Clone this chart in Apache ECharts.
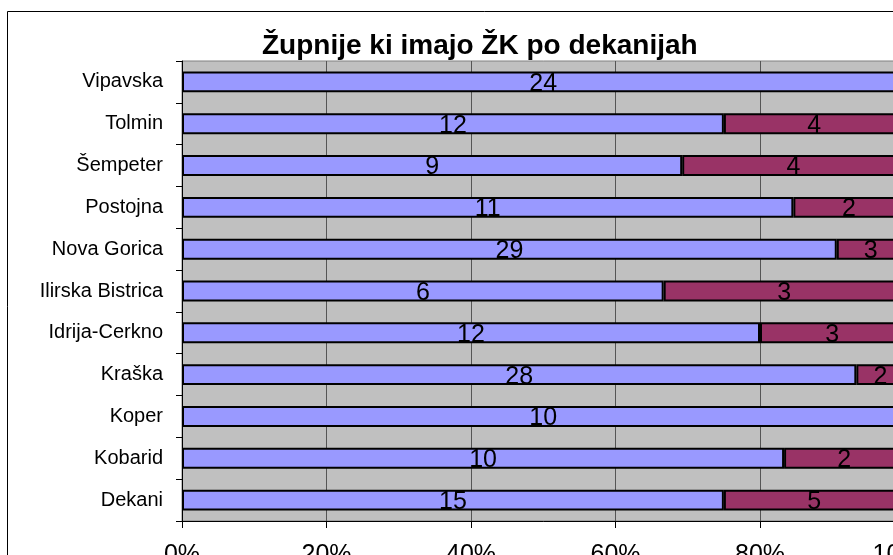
<!DOCTYPE html>
<html><head><meta charset="utf-8">
<script src="https://cdn.jsdelivr.net/npm/echarts@6/dist/echarts.min.js"></script>
<style>html,body{margin:0;padding:0;overflow:hidden;background:#fff;width:893px;height:555px}#c{width:960px;height:600px}</style>
</head><body><div id="c"></div>
<script>
const categories = ['Vipavska','Tolmin','Šempeter','Postojna','Nova Gorica','Ilirska Bistrica','Idrija-Cerkno','Kraška','Koper','Kobarid','Dekani'];
const seriesA = [24,12,9,11,29,6,12,28,10,10,15];
const seriesB = [0,4,4,2,3,3,3,2,0,2,5];
const xTicks = ['0%','20%','40%','60%','80%','100%'];
const titleText = 'Župnije ki imajo ŽK po dekanijah';

const totals = categories.map((c,i)=>seriesA[i]+seriesB[i]);
const pctA = seriesA.map((v,i)=>v/totals[i]*100);
const pctB = seriesB.map((v,i)=>v/totals[i]*100);
const chart = echarts.init(document.getElementById('c'), null, {renderer:'canvas'});
const FONT = 'Liberation Sans, Arial, sans-serif';
const labelStyle = (raw)=>({show:true,position:'inside',color:'#000',fontFamily:FONT,fontSize:25,offset:[0,2],
  formatter:(p)=> raw[p.dataIndex] ? String(raw[p.dataIndex]) : ''});
chart.setOption({
  animation:false,
  title:{text:titleText,left:257,top:27,textStyle:{fontFamily:FONT,fontSize:28,fontWeight:'bold',color:'#000'}},
  graphic:[{type:'rect',shape:{x:7.5,y:11.5,width:1200,height:1000},style:{fill:'none',stroke:'#000',lineWidth:1},z:-1}],
  grid:{left:182,top:61,width:722.5,height:460,show:true,backgroundColor:'#C0C0C0',borderColor:'#808080',borderWidth:1},
  xAxis:{type:'value',min:0,max:100,interval:20,
    axisLine:{show:true,lineStyle:{color:'#000',width:1}},
    axisTick:{show:true,length:7,lineStyle:{color:'#000'}},
    splitLine:{show:true,lineStyle:{color:'#555',width:1}},
    axisLabel:{formatter:(v)=>xTicks[Math.round(v/20)],margin:22,color:'#000',fontFamily:FONT,fontSize:25}},
  yAxis:{type:'category',data:categories,inverse:true,
    axisLine:{show:true,lineStyle:{color:'#000',width:1}},
    axisTick:{show:true,length:6,inside:false,lineStyle:{color:'#000'}},
    axisLabel:{margin:19,color:'#000',fontFamily:FONT,fontSize:20}},
  series:[
    {type:'bar',stack:'s',data:pctA,barCategoryGap:'50%',itemStyle:{color:'#9999FF',borderColor:'#000',borderWidth:2},label:labelStyle(seriesA)},
    {type:'bar',stack:'s',data:pctB,itemStyle:{color:'#993366',borderColor:'#000',borderWidth:2},label:labelStyle(seriesB)}
  ]
});
</script></body></html>
